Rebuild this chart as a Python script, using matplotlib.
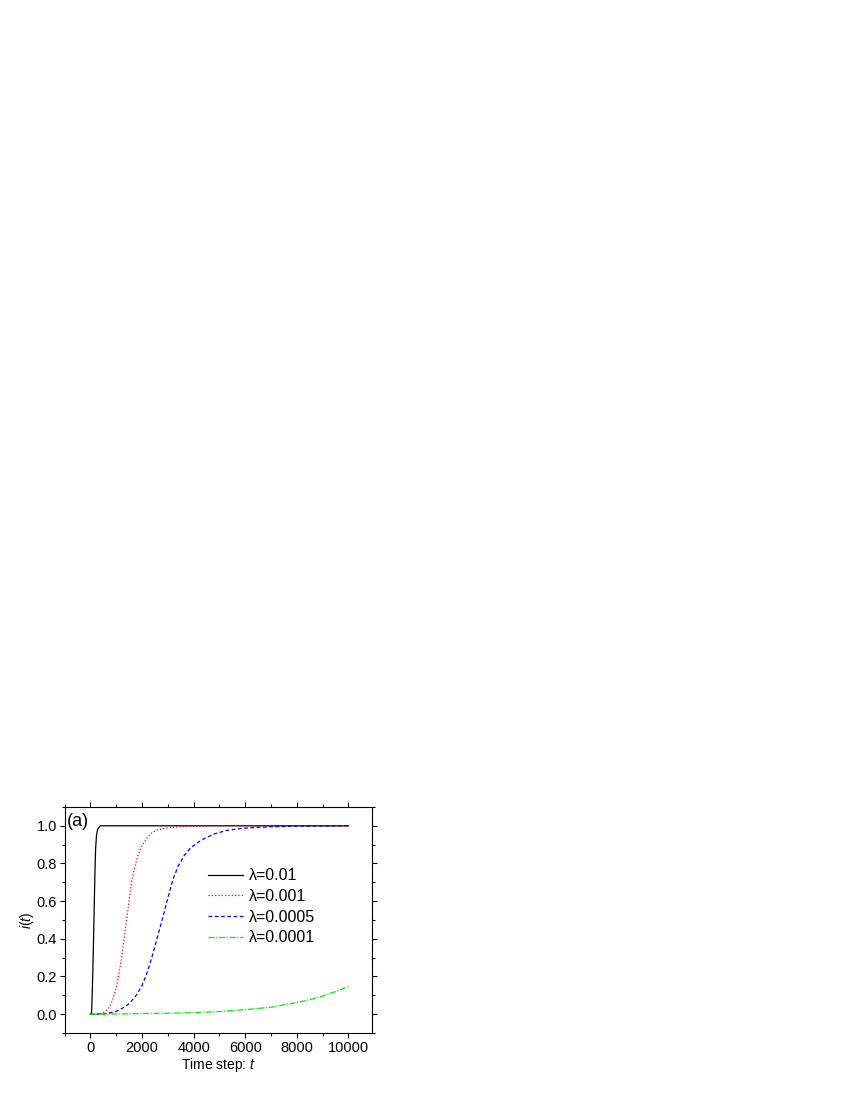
import matplotlib
matplotlib.use("Agg")
import matplotlib.pyplot as plt
from matplotlib.ticker import MultipleLocator

plt.rcParams['font.family'] = ['Liberation Sans', 'DejaVu Sans']
plt.rcParams['mathtext.fontset'] = 'custom'
plt.rcParams['mathtext.it'] = 'Liberation Sans:italic'
plt.rcParams['mathtext.rm'] = 'Liberation Sans'

labels = ["λ=0.01", "λ=0.001", "λ=0.0005", "λ=0.0001"]
colors = ["black", "red", "blue", "#00ee00"]

t_01 = [0, 40, 60, 80, 100, 120, 140, 160, 180, 205, 240, 280, 320, 360, 400, 1000, 10000]
i_01 = [0.0, 0.0, 0.05, 0.14, 0.25, 0.37, 0.5, 0.63, 0.76, 0.88, 0.95, 0.98, 0.99, 0.997, 1.0, 1.0, 1.0]

t_001 = [0, 300, 400, 550, 700, 800, 900, 1000, 1100, 1200, 1300, 1400, 1500, 1600, 1700,
         1850, 2000, 2200, 2400, 2600, 2900, 3200, 3600, 4000, 5000, 10000]
i_001 = [0.0, 0.0, 0.002, 0.012, 0.03, 0.055, 0.09, 0.14, 0.21, 0.29, 0.39, 0.495, 0.60, 0.705,
         0.77, 0.845, 0.895, 0.936, 0.965, 0.979, 0.987, 0.992, 0.996, 0.998, 1.0, 1.0]

t_0005 = [0, 500, 700, 1000, 1200, 1500, 1750, 2000, 2200, 2400, 2600, 2800, 3000, 3200, 3400,
          3650, 3900, 4200, 4450, 4800, 5300, 5800, 6250, 7000, 8000, 9000, 10000]
i_0005 = [0.0, 0.001, 0.005, 0.015, 0.028, 0.055, 0.095, 0.15, 0.22, 0.31, 0.41, 0.51, 0.615,
          0.715, 0.785, 0.845, 0.885, 0.915, 0.935, 0.957, 0.976, 0.985, 0.99, 0.995, 0.998,
          0.999, 1.0]

t_0001 = [0, 1000, 2000, 3000, 4000, 5000, 6000, 7000, 7600, 8000, 8500, 9000, 9500, 10000]
i_0001 = [0.0, 0.001, 0.003, 0.005, 0.008, 0.014, 0.024, 0.037, 0.052, 0.062, 0.077, 0.096,
          0.12, 0.147]

fig = plt.figure(figsize=(8.5, 11), dpi=100)
ax = fig.add_axes([0.0759, 0.0609, 0.3614, 0.2055])

styles = ['-', ':', (0, (3, 2)), (0, (5, 1.2, 1, 1.2))]
series = [(t_01, i_01), (t_001, i_001), (t_0005, i_0005), (t_0001, i_0001)]
for (t, v), c, ls, lab in zip(series, colors, styles, labels):
    ax.plot(t, v, color=c, linestyle=ls, linewidth=0.9, label=lab)

ax.set_xlim(-1000, 10900)
ax.set_ylim(-0.1, 1.1)
ax.xaxis.set_major_locator(MultipleLocator(2000))
ax.xaxis.set_minor_locator(MultipleLocator(1000))
ax.yaxis.set_major_locator(MultipleLocator(0.2))
ax.yaxis.set_minor_locator(MultipleLocator(0.1))
ax.yaxis.set_major_formatter(matplotlib.ticker.FormatStrFormatter('%.1f'))
ax.tick_params(which='both', direction='out', top=True, right=True, labelsize=10.5, width=0.8, pad=2)
ax.tick_params(which='major', length=3.5)
ax.tick_params(which='minor', length=2.2)
for s in ax.spines.values():
    s.set_linewidth(0.8)

ax.set_xlabel("Time step: $t$", fontsize=10, labelpad=1)
ax.set_ylabel("$i$($t$)", fontsize=10, labelpad=0)
ax.text(0.008, 0.975, "(a)", transform=ax.transAxes, fontsize=13, va='top', ha='left')

ax.legend(loc='upper left', bbox_to_anchor=(0.43, 0.778), frameon=False, fontsize=11.5,
          handlelength=2.2, handletextpad=0.4, labelspacing=0.35, borderpad=0.2)

fig.savefig("out.png", dpi=100)
